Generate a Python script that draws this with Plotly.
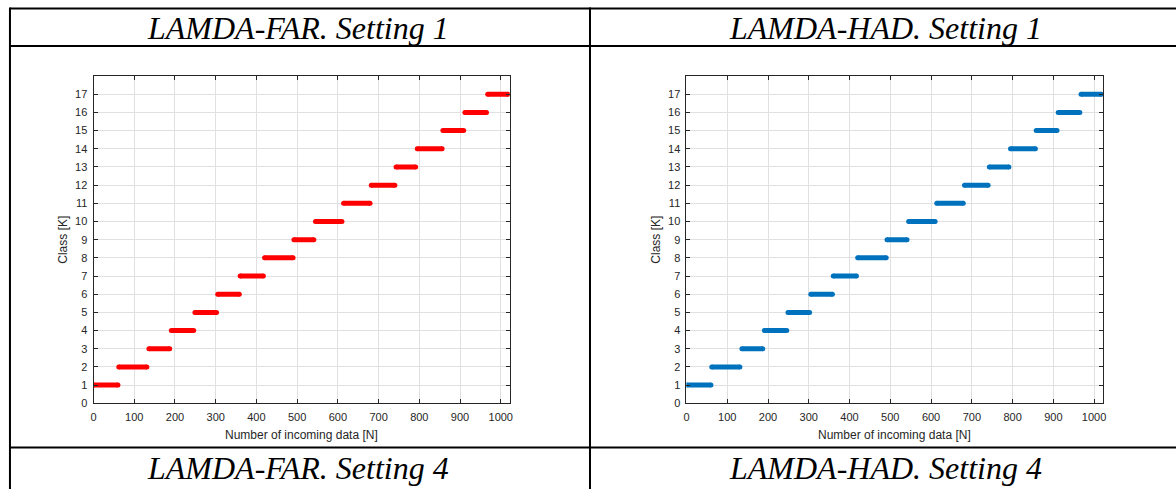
import plotly.graph_objects as go

# Class segments: each class occupies a run of consecutive incoming samples
classes = list(range(1, 18))
seg_start = [0, 62, 136, 191, 249, 305, 360, 420, 492, 545, 614, 682, 743, 795, 858, 912, 968]
seg_end = [60, 131, 187, 246, 302, 358, 417, 490, 541, 610, 679, 740, 791, 856, 909, 965, 1018]

x_ticks = list(range(0, 1001, 100))
y_ticks = list(range(0, 18))

panel_titles = ["LAMDA-FAR. Setting 1", "LAMDA-HAD. Setting 1"]
lower_titles = ["LAMDA-FAR. Setting 4", "LAMDA-HAD. Setting 4"]
panel_colors = ["#FF0000", "#0072BD"]

W, H = 1176, 489


def px(x):
    return x / W


def py(y):
    return 1 - y / H


def segment_xy():
    xs, ys = [], []
    for c, s, e in zip(classes, seg_start, seg_end):
        xs += [s, e, None]
        ys += [c, c, None]
    return xs, ys


fig = go.Figure()
xs, ys = segment_xy()
for i, col in enumerate(panel_colors):
    suffix = "" if i == 0 else str(i + 1)
    fig.add_trace(go.Scatter(
        x=xs, y=ys, mode="lines+markers",
        line=dict(color=col, width=5),
        marker=dict(color=col, size=5),
        xaxis="x" + suffix, yaxis="y" + suffix,
        showlegend=False, hoverinfo="skip", connectgaps=False,
    ))

axis_font = dict(family="Liberation Sans, Arial", size=11, color="#262626")
common_x = dict(range=[0, 1022], tickvals=x_ticks, ticks="inside", ticklen=4,
                tickcolor="#262626", showline=True, linecolor="#262626", linewidth=1,
                mirror="ticks", showgrid=True, gridcolor="#e0e0e0", gridwidth=1,
                zeroline=False, tickfont=axis_font, fixedrange=True, ticklabelstandoff=4)
common_y = dict(range=[0, 18], tickvals=y_ticks, ticks="inside", ticklen=4,
                tickcolor="#262626", showline=True, linecolor="#262626", linewidth=1,
                mirror="ticks", showgrid=True, gridcolor="#e0e0e0", gridwidth=1,
                zeroline=False, tickfont=axis_font, fixedrange=True, ticklabelstandoff=3)

y_dom = [py(408.3), py(77)]
fig.update_layout(
    width=W, height=H, margin=dict(l=0, r=0, t=0, b=0),
    paper_bgcolor="white", plot_bgcolor="white",
    xaxis=dict(domain=[px(91), px(509.3)], anchor="y", **common_x),
    yaxis=dict(domain=y_dom, anchor="x", **common_y),
    xaxis2=dict(domain=[px(687), px(1105.7)], anchor="y2", **common_x),
    yaxis2=dict(domain=y_dom, anchor="x2", **common_y),
)

# Table grid around the panels
line_style = dict(color="black", width=2)
shapes = [
    dict(type="line", xref="paper", yref="paper", x0=px(7), x1=px(1184), y0=py(8.5), y1=py(8.5), line=line_style),
    dict(type="line", xref="paper", yref="paper", x0=px(7), x1=px(1184), y0=py(46.5), y1=py(46.5), line=line_style),
    dict(type="line", xref="paper", yref="paper", x0=px(7), x1=px(1184), y0=py(453), y1=py(453), line=line_style),
    dict(type="line", xref="paper", yref="paper", x0=px(7), x1=px(7), y0=py(7.5), y1=py(495), line=line_style),
    dict(type="line", xref="paper", yref="paper", x0=px(590), x1=px(590), y0=py(7.5), y1=py(495), line=line_style),
]
fig.update_layout(shapes=shapes)

title_font = dict(family="Liberation Serif, Times New Roman", size=32, color="black")
label_font = dict(family="Liberation Sans, Arial", size=12, color="#262626")
annotations = []
centers = [297, 887]
for cx, t, t2 in zip(centers, panel_titles, lower_titles):
    annotations.append(dict(text="<i>" + t + "</i>", x=px(cx), y=py(28), xref="paper", yref="paper",
                            showarrow=False, font=title_font, xanchor="center", yanchor="middle"))
    annotations.append(dict(text="<i>" + t2 + "</i>", x=px(cx), y=py(474), xref="paper", yref="paper",
                            showarrow=False, font=title_font, xanchor="center", yanchor="middle"))
for x0 in [91, 687]:
    annotations.append(dict(text="Number of incoming data [N]", x=px(x0 + 209), y=py(440),
                            xref="paper", yref="paper", showarrow=False, font=label_font,
                            xanchor="center", yanchor="middle"))
    annotations.append(dict(text="Class [K]", x=px(x0 - 31), y=py(243), xref="paper", yref="paper",
                            showarrow=False, font=label_font, textangle=-90,
                            xanchor="center", yanchor="middle"))
fig.update_layout(annotations=annotations)

fig.write_html("out.html")
